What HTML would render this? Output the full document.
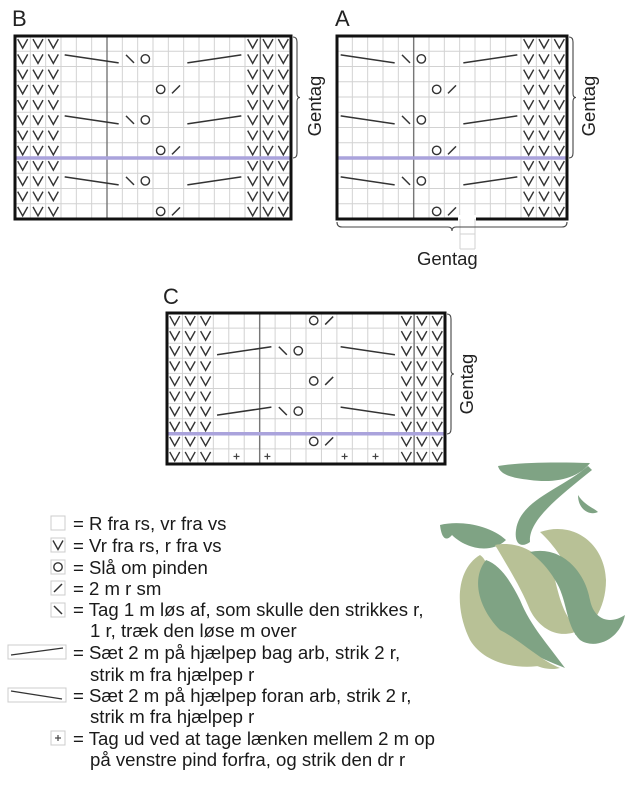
<!DOCTYPE html>
<html><head><meta charset="utf-8"><style>
html,body{margin:0;padding:0;background:#fff;}
body{width:640px;height:793px;overflow:hidden;position:relative;font-family:"Liberation Sans",sans-serif;}
.lg{position:absolute;font-size:18.6px;color:#1a1a1a;white-space:nowrap;line-height:20px;}
.gt{position:absolute;font-size:18.5px;color:#222;transform:rotate(-90deg);transform-origin:center;width:70px;text-align:center}
</style></head><body>
<svg id="s" width="640" height="793" style="position:absolute;left:0;top:0" xmlns="http://www.w3.org/2000/svg">
<g id="flower">
<path d="M498 466 C520 462 560 462 590 463 C580 476 560 484 530 480 C510 478 500 474 498 466Z" fill="#7fa384"/>
<path d="M588 466 C560 490 520 500 516 530 C514 545 522 548 530 542 C528 520 560 496 592 470Z" fill="#7fa384"/>
<path d="M578 495 C584 505 594 508 598 512 C590 516 578 510 578 495Z" fill="#7fa384"/>
<path d="M440 525 C460 520 490 525 506 540 C490 555 465 548 452 535 C448 540 442 542 440 525Z" fill="#7fa384"/>
<path d="M540 532 C575 520 605 545 606 580 C606 610 590 630 575 635 C585 600 570 560 540 532Z" fill="#b8c196"/>
<path d="M480 555 C455 570 455 610 470 640 C485 665 520 670 545 665 C520 650 495 625 490 595 C487 575 490 562 480 555Z" fill="#b8c196"/>
<path d="M495 545 C520 540 545 555 555 580 C560 600 565 620 580 630 C560 640 540 630 530 610 C522 590 510 570 495 545Z" fill="#b8c196"/>
<path d="M486 560 C470 580 480 610 500 630 C520 650 545 660 565 668 C548 645 530 625 520 600 C510 580 500 565 486 560Z" fill="#7fa384"/>
<path d="M530 552 C560 545 585 570 590 600 C594 620 610 625 625 615 C620 640 595 650 580 640 C565 625 568 600 555 580 C548 568 540 560 530 552Z" fill="#7fa384"/>
<path d="M500 630 C520 640 540 660 560 668 C545 672 520 665 500 630Z" fill="#b8c196"/>
</g>
</svg>

<div style="position:absolute;left:12px;top:6px;font-size:22px;color:#222">B</div>
<div style="position:absolute;left:335px;top:6px;font-size:22px;color:#222">A</div>
<div style="position:absolute;left:163px;top:284px;font-size:22px;color:#222">C</div>
<div class="gt" style="left:280px;top:95px">Gentag</div>
<div class="gt" style="left:554px;top:95px">Gentag</div>
<div class="gt" style="left:432px;top:373px">Gentag</div>
<div style="position:absolute;left:417px;top:248px;font-size:18.5px;color:#222">Gentag</div>

<div class="lg" style="left:73px;top:514px">= R fra rs, vr fra vs</div>
<div class="lg" style="left:73px;top:536px">= Vr fra rs, r fra vs</div>
<div class="lg" style="left:73px;top:558px">= Slå om pinden</div>
<div class="lg" style="left:73px;top:579px">= 2 m r sm</div>
<div class="lg" style="left:73px;top:600px">= Tag 1 m løs af, som skulle den strikkes r,</div>
<div class="lg" style="left:90px;top:621px">1 r, træk den løse m over</div>
<div class="lg" style="left:73px;top:643px">= Sæt 2 m på hjælpep bag arb, strik 2 r,</div>
<div class="lg" style="left:90px;top:665px">strik m fra hjælpep r</div>
<div class="lg" style="left:73px;top:686px">= Sæt 2 m på hjælpep foran arb, strik 2 r,</div>
<div class="lg" style="left:90px;top:707px">strik m fra hjælpep r</div>
<div class="lg" style="left:73px;top:729px">= Tag ud ved at tage lænken mellem 2 m op</div>
<div class="lg" style="left:90px;top:750px">på venstre pind forfra, og strik den dr r</div>

<script>
var s=document.getElementById('s'),NS='http://www.w3.org/2000/svg';
function el(t,a){var e=document.createElementNS(NS,t);for(var k in a)e.setAttribute(k,a[k]);s.appendChild(e);return e;}
function ln(x1,y1,x2,y2,c,w){el('line',{x1:x1,y1:y1,x2:x2,y2:y2,stroke:c,'stroke-width':w});}
function V(cx,cy){el('polyline',{points:(cx-5)+','+(cy-4.5)+' '+cx+','+(cy+4.5)+' '+(cx+5)+','+(cy-4.5),fill:'none',stroke:'#333','stroke-width':1.4});}
function O(cx,cy){el('circle',{cx:cx,cy:cy,r:4.2,fill:'none',stroke:'#333','stroke-width':1.4});}
function sl(cx,cy,d){ln(cx-4,cy+(d?4:-4),cx+4,cy+(d?-4:4),'#333',1.5);}
function plus(cx,cy){ln(cx-3,cy,cx+3,cy,'#444',1.2);ln(cx,cy-3,cx,cy+3,'#444',1.2);}
function brace(x,y1,y2,w){var m=(y1+y2)/2;el('path',{d:'M'+x+' '+y1+' q'+w+' 0 '+w+' 5 V'+(m-4)+' q0 4 '+(w/2+1)+' 4 q'+(-(w/2+1))+' 0 '+(-(w/2+1))+' 4 V'+(y2-5)+' q0 5 '+(-w)+' 5',fill:'none',stroke:'#444','stroke-width':1.1});}
function chart(o){
 var cw=o.w/o.c,rh=o.h/o.r,x0=o.x,y0=o.y;
 function cx(c){return x0+(c+.5)*cw;} function cy(r){return y0+(r+.5)*rh;}
 for(var i=1;i<o.c;i++)ln(x0+i*cw,y0,x0+i*cw,y0+o.h,'#d2d2d2',1);
 for(var j=1;j<o.r;j++)ln(x0,y0+j*rh,x0+o.w,y0+j*rh,'#d2d2d2',1);
 o.div.forEach(function(c){ln(x0+c*cw,y0,x0+c*cw,y0+o.h,'#777',1.4);});
 ln(x0,y0+o.lav*rh,x0+o.w,y0+o.lav*rh,'#aaa3dc',3.5);
 for(var r=0;r<o.r;r++)o.v.forEach(function(c){V(cx(c),cy(r));});
 o.f(cx,cy,cw,rh);
 el('rect',{x:x0,y:y0,width:o.w,height:o.h,fill:'none',stroke:'#111','stroke-width':3});
 return {cx:cx,cy:cy,cw:cw,rh:rh};
}
function cable(x1,x2,y,up){ln(x1,y+(up?4:-4),x2,y+(up?-4:4),'#333',1.5);}
chart({x:15,y:36,w:276,h:183,c:18,r:12,v:[0,1,2,15,16,17],div:[6,16],lav:8,f:function(cx,cy,cw){
 [1,5,9].forEach(function(r){var y=cy(r);cable(cx(3)-4,cx(6)+4,y,false);sl(cx(7),y,false);O(cx(8),y);cable(cx(11)-4,cx(14)+4,y,true);});
 [3,7,11].forEach(function(r){var y=cy(r);O(cx(9),y);sl(cx(10),y,true);});
}});
brace(293,37,158,4);
chart({x:337,y:36,w:230,h:183,c:15,r:12,v:[12,13,14],div:[5],lav:8,f:function(cx,cy,cw){
 [1,5,9].forEach(function(r){var y=cy(r);cable(cx(0)-4,cx(3)+4,y,false);sl(cx(4),y,false);O(cx(5),y);cable(cx(8)-4,cx(11)+4,y,true);});
 [3,7,11].forEach(function(r){var y=cy(r);O(cx(6),y);sl(cx(7),y,true);});
}});
el('rect',{x:458,y:215,width:18,height:8,fill:'#fff'});
ln(460,219,460,249,'#d2d2d2',1);ln(475,219,475,249,'#d2d2d2',1);ln(460,234,475,234,'#d2d2d2',1);ln(460,249,475,249,'#d2d2d2',1);
el('path',{d:'M337 222 q0 5 5 5 H448 q4 0 4 4 q0 -4 4 -4 H562 q5 0 5 -5',fill:'none',stroke:'#444','stroke-width':1.1});
brace(569,37,158,4);
chart({x:167,y:313,w:278,h:151,c:18,r:10,v:[0,1,2,15,16,17],div:[6,16],lav:8,f:function(cx,cy,cw){
 [2,6].forEach(function(r){var y=cy(r);cable(cx(3)-4,cx(6)+4,y,true);sl(cx(7),y,false);O(cx(8),y);cable(cx(11)-4,cx(14)+4,y,false);});
 [0,4,8].forEach(function(r){var y=cy(r);O(cx(9),y);sl(cx(10),y,true);});
 [4,6,11,13].forEach(function(c){plus(cx(c),cy(9));});
}});
brace(447,314,434,4);
function box(x,y,w,h){el('rect',{x:x,y:y,width:w,height:h,fill:'#fff',stroke:'#ccc','stroke-width':1});}
box(51,516,14,14);
box(51,538,14,14);V(58,545);
box(51,560,14,14);O(58,567);
box(51,581,14,14);sl(58,588,true);
box(51,603,14,14);sl(58,610,false);
box(8,645,58,14);ln(11,655,63,648,'#333',1.3);
box(8,688,58,14);ln(11,691,62,699,'#333',1.3);
box(51,731,14,14);plus(58,738);
</script>
</body></html>
